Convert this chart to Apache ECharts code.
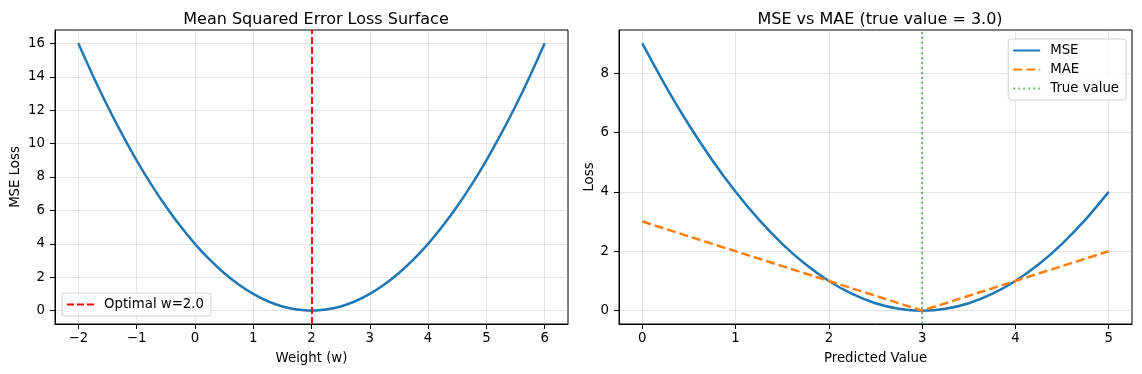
<!DOCTYPE html>
<html>
<head>
<meta charset="utf-8">
<script src="https://cdn.jsdelivr.net/npm/echarts@6/dist/echarts.min.js"></script>
<style>html,body{margin:0;padding:0;background:#fff;}#c{width:1142px;height:374px;}</style>
</head>
<body>
<div id="c"></div>
<script>
// ---- data ----
const weights = [-2,-1.75,-1.5,-1.25,-1,-0.75,-0.5,-0.25,0,0.25,0.5,0.75,1,1.25,1.5,1.75,2,2.25,2.5,2.75,3,3.25,3.5,3.75,4,4.25,4.5,4.75,5,5.25,5.5,5.75,6];
const mseLoss = [16,14.0625,12.25,10.5625,9,7.5625,6.25,5.0625,4,3.0625,2.25,1.5625,1,0.5625,0.25,0.0625,0,0.0625,0.25,0.5625,1,1.5625,2.25,3.0625,4,5.0625,6.25,7.5625,9,10.5625,12.25,14.0625,16];
const optimalW = 2.0;

const predicted = [0,0.25,0.5,0.75,1,1.25,1.5,1.75,2,2.25,2.5,2.75,3,3.25,3.5,3.75,4,4.25,4.5,4.75,5];
const mseValues = [9,7.5625,6.25,5.0625,4,3.0625,2.25,1.5625,1,0.5625,0.25,0.0625,0,0.0625,0.25,0.5625,1,1.5625,2.25,3.0625,4];
const maeValues = [3,2.75,2.5,2.25,2,1.75,1.5,1.25,1,0.75,0.5,0.25,0,0.25,0.5,0.75,1,1.25,1.5,1.75,2];
const trueValue = 3.0;

const xTicksLeft = [-2,-1,0,1,2,3,4,5,6];
const yTicksLeft = [0,2,4,6,8,10,12,14,16];
const xTicksRight = [0,1,2,3,4,5];
const yTicksRight = [0,2,4,6,8];

// ---- chart ----
const FONT = 'DejaVu Sans';
const FS = 13.3;
const fmt = v => String(v).replace('-', '\u2212');
const gridLine = {show:true, lineStyle:{color:'rgba(176,176,176,0.33)', width:1}};
function axis(min, max, ticks, name, nameGap, gi, labelMargin){
  return {
    type:'value', gridIndex:gi, min:min, max:max,
    name:name, nameLocation:'middle', nameGap:nameGap,
    nameTextStyle:{fontFamily:FONT, fontSize:FS, color:'#000'},
    axisLine:{show:true, onZero:false, lineStyle:{color:'#000', width:1}},
    axisTick:{show:true, length:5, customValues:ticks, lineStyle:{color:'#000'}},
    axisLabel:{customValues:ticks, formatter:fmt, fontFamily:FONT, fontSize:FS, color:'#000', margin:labelMargin},
    splitLine:gridLine
  };
}
const pairs = (xs, ys) => xs.map((x,i)=>[x, ys[i]]);
const legendBase = {
  orient:'vertical', itemWidth:27, itemHeight:10, itemGap:6, padding:[5,7,5,4],
  borderColor:'#d0d0d0', borderWidth:1, borderRadius:3, backgroundColor:'rgba(255,255,255,0.8)',
  itemStyle:{opacity:0},
  textStyle:{fontFamily:FONT, fontSize:FS, color:'#000', padding:[0,0,0,5]}
};

const chart = echarts.init(document.getElementById('c'), null, {renderer:'canvas'});
chart.setOption({
  animation:false,
  textStyle:{fontFamily:FONT},
  title:[
    {text:'Mean Squared Error Loss Surface', left:311, top:7, textAlign:'center',
     textStyle:{fontFamily:FONT, fontSize:16, fontWeight:'normal', color:'#000'}},
    {text:'MSE vs MAE (true value = 3.0)', left:875, top:7, textAlign:'center',
     textStyle:{fontFamily:FONT, fontSize:16, fontWeight:'normal', color:'#000'}}
  ],
  grid:[
    {left:55, right:574, top:30, bottom:50, show:true, borderColor:'#000', borderWidth:1, backgroundColor:'transparent'},
    {left:619, right:10, top:30, bottom:50, show:true, borderColor:'#000', borderWidth:1, backgroundColor:'transparent'}
  ],
  xAxis:[
    axis(-2.4, 6.4, xTicksLeft, 'Weight (w)', 28, 0, 8),
    axis(-0.25, 5.25, xTicksRight, 'Predicted Value', 28, 1, 8)
  ],
  yAxis:[
    axis(-0.8, 16.8, yTicksLeft, 'MSE Loss', 33, 0, 10),
    axis(-0.45, 9.45, yTicksRight, 'Loss', 23, 1, 10)
  ],
  legend:[
    Object.assign({}, legendBase, {data:['Optimal w=2.0'], left:62, top:293}),
    Object.assign({}, legendBase, {data:['MSE','MAE','True value'], right:16, top:39})
  ],
  series:[
    {name:'MSE surface', type:'line', xAxisIndex:0, yAxisIndex:0, data:pairs(weights, mseLoss),
     symbol:'none', smooth:0.3, lineStyle:{color:'#1f77b4', width:2.5}, itemStyle:{color:'#1f77b4'},
     markLine:{silent:true, symbol:'none', label:{show:false},
       lineStyle:{color:'#ff0000', type:[7,3], width:1.9}, data:[{xAxis:optimalW}]}},
    {name:'Optimal w=2.0', type:'line', xAxisIndex:0, yAxisIndex:0, data:[], symbol:'none',
     lineStyle:{color:'#ff0000', type:[7,3], width:1.9}, itemStyle:{color:'#ff0000'}},
    {name:'MSE', type:'line', xAxisIndex:1, yAxisIndex:1, data:pairs(predicted, mseValues),
     symbol:'none', smooth:0.3, lineStyle:{color:'#1f77b4', width:2.5}, itemStyle:{color:'#1f77b4'}, z:3},
    {name:'MAE', type:'line', xAxisIndex:1, yAxisIndex:1, data:pairs(predicted, maeValues),
     symbol:'none', smooth:false, lineStyle:{color:'#ff7f0e', width:2.5, type:[9,4]}, itemStyle:{color:'#ff7f0e'}, z:4},
    {name:'True value', type:'line', xAxisIndex:1, yAxisIndex:1, data:[], symbol:'none',
     lineStyle:{color:'rgba(44,160,44,0.7)', type:[1.9,3.1], width:1.9}, itemStyle:{color:'rgba(44,160,44,0.7)'},
     markLine:{silent:true, symbol:'none', label:{show:false},
       lineStyle:{color:'rgba(44,160,44,0.7)', type:[1.9,3.1], width:1.9}, data:[{xAxis:trueValue}]}}
  ]
});
</script>
</body>
</html>
